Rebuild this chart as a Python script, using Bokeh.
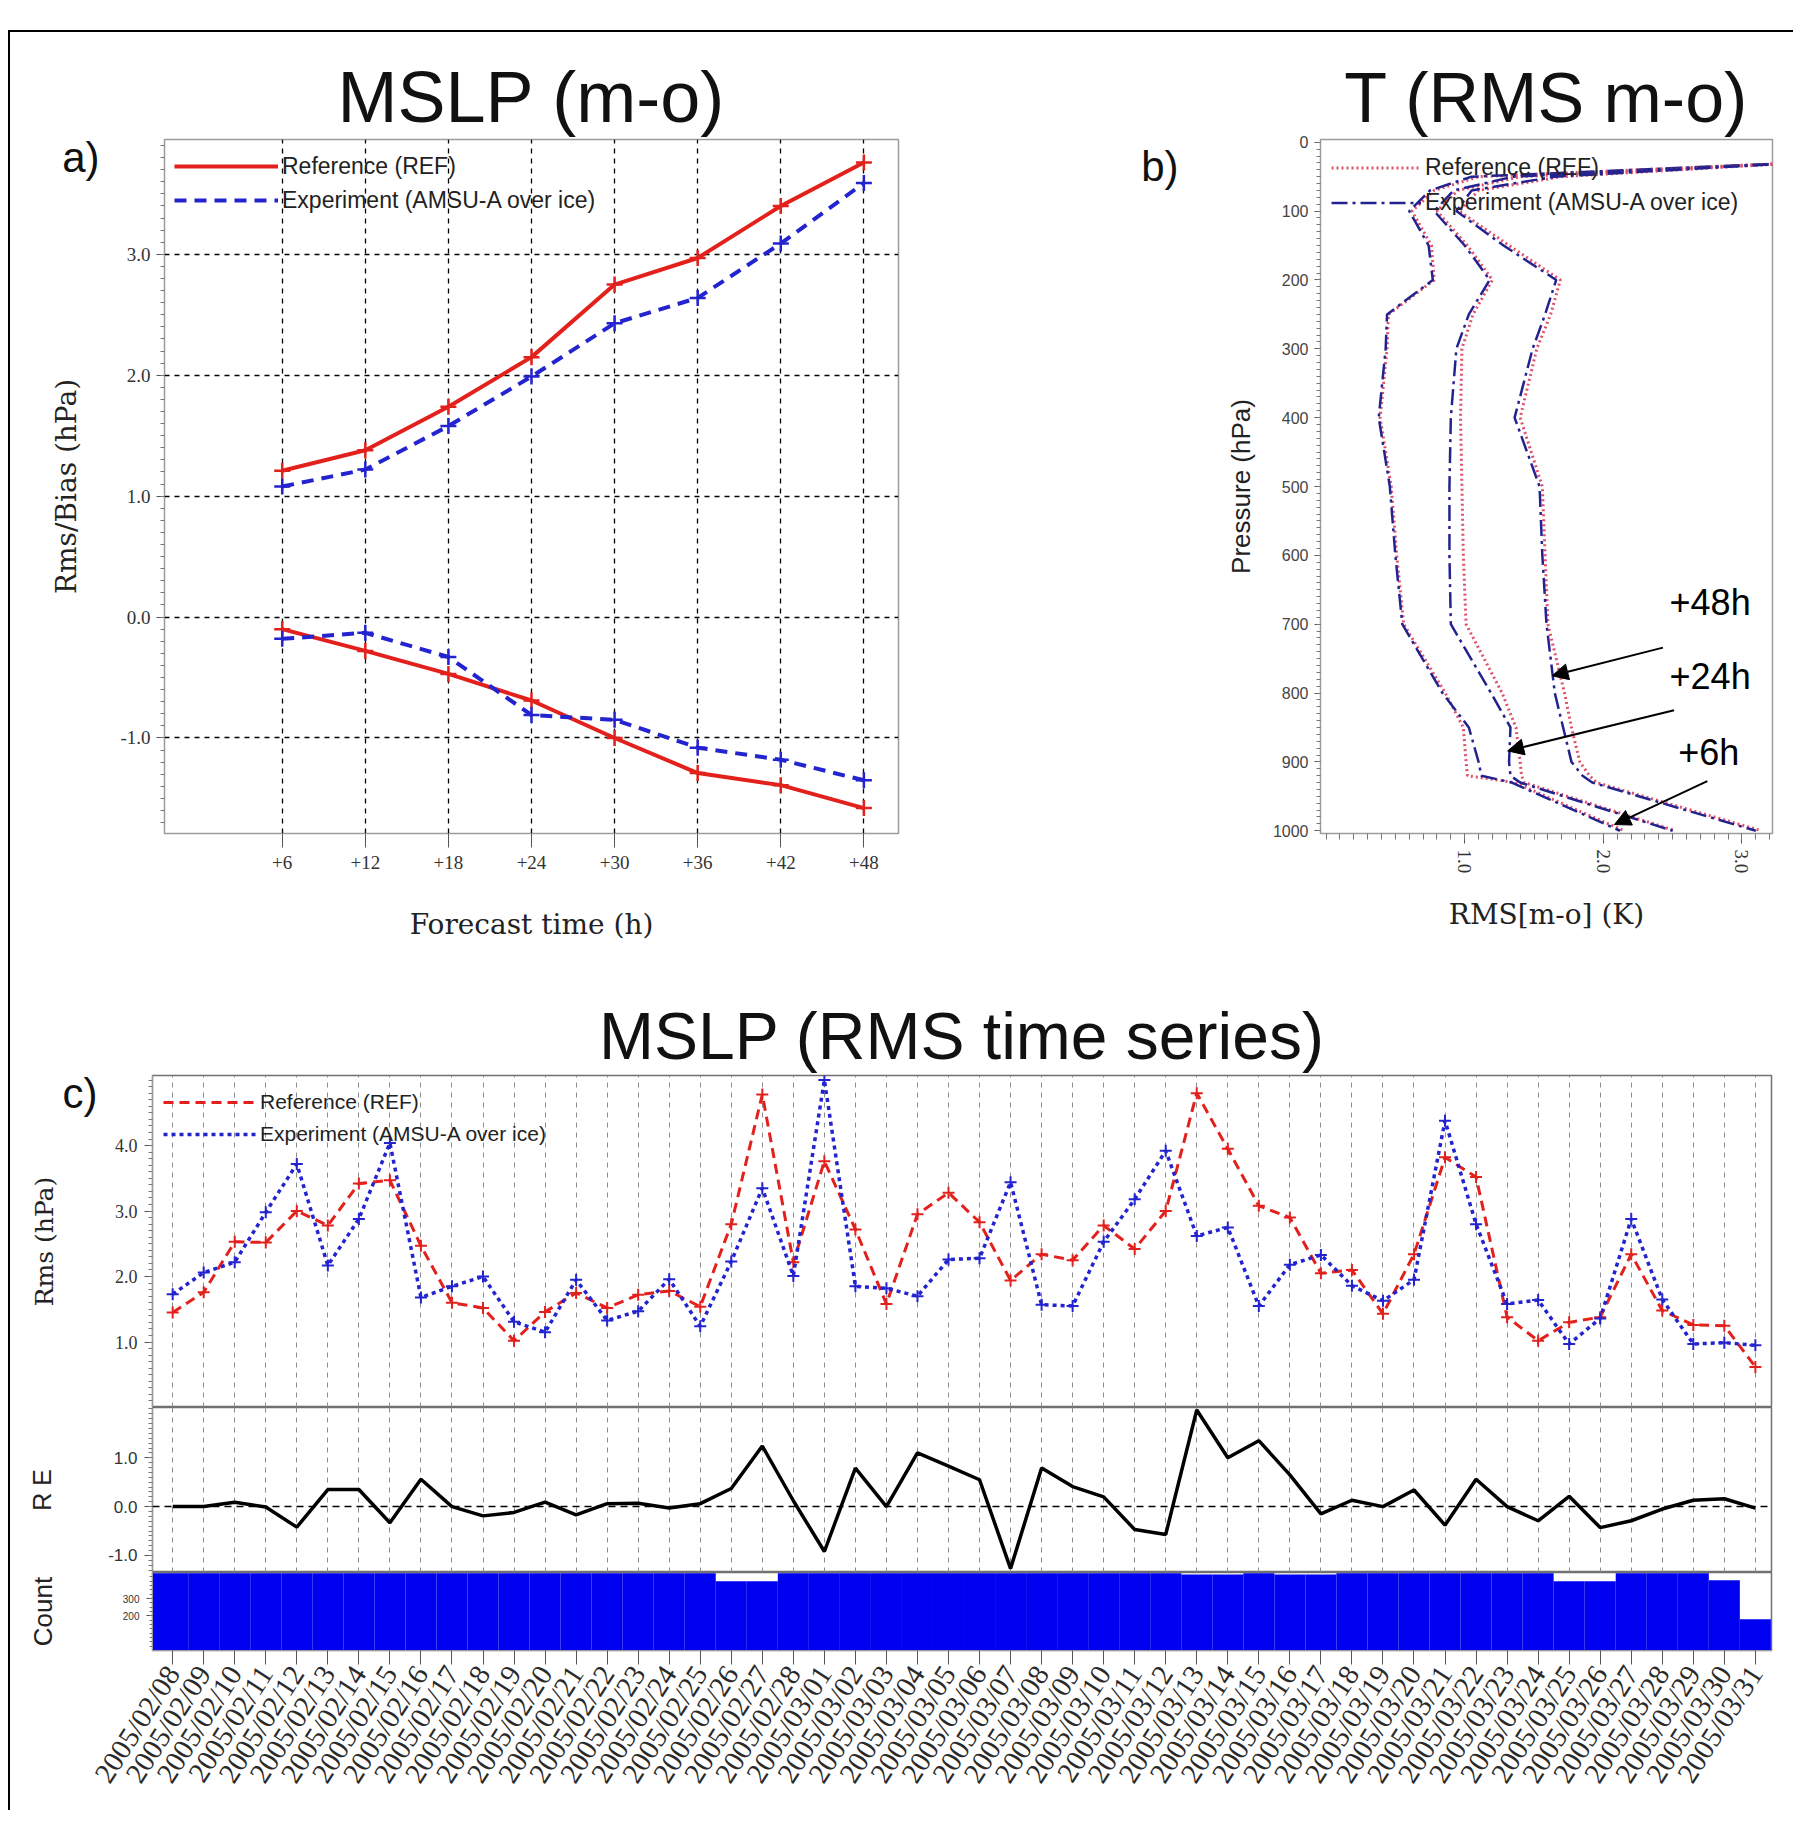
import numpy as np
import pandas as pd
from bokeh.plotting import figure
from bokeh.models import (Range1d, FixedTicker, Label, Legend, LegendItem, Span, Arrow, Title,
                          NormalHead, Spacer, PrintfTickFormatter, ColumnDataSource, LinearAxis)
from bokeh.layouts import column, row
from bokeh.embed import file_html
from bokeh.resources import INLINE

SANS = "Liberation Sans"
SERIF = "Liberation Serif"
LSERIF = "DejaVu Serif"
RED = "#e3211c"
BLUE = "#2323cf"
PINK = "#e0506a"
NAVY = "#23238f"

# ---------------- panel a data ----------------
lead_hours = [6, 12, 18, 24, 30, 36, 42, 48]
lead_labels = ["+6", "+12", "+18", "+24", "+30", "+36", "+42", "+48"]
rms_ref = [1.21, 1.38, 1.74, 2.15, 2.75, 2.97, 3.40, 3.76]
rms_exp = [1.08, 1.22, 1.58, 1.99, 2.43, 2.64, 3.09, 3.59]
bias_ref = [-0.10, -0.28, -0.47, -0.69, -1.00, -1.29, -1.39, -1.58]
bias_exp = [-0.18, -0.13, -0.33, -0.81, -0.85, -1.08, -1.18, -1.35]

# ---------------- panel b data ----------------
levels = [30, 50, 70, 100, 150, 200, 250, 300, 400, 500, 600, 700, 800, 850, 900, 920, 930, 1000]
t06_ref = [3.40, 1.10, 0.78, 0.62, 0.76, 0.78, 0.45, 0.44, 0.39, 0.47, 0.51, 0.56, 0.86, 0.99, 1.01, 1.02, 1.36, 2.15]
t06_exp = [3.40, 1.05, 0.75, 0.60, 0.74, 0.77, 0.44, 0.43, 0.38, 0.46, 0.50, 0.55, 0.84, 1.03, 1.10, 1.12, 1.34, 2.12]
t24_ref = [3.40, 1.40, 0.95, 0.80, 1.02, 1.20, 1.06, 0.98, 0.97, 0.98, 0.99, 1.01, 1.27, 1.37, 1.40, 1.41, 1.43, 2.52]
t24_exp = [3.40, 1.35, 0.92, 0.78, 1.00, 1.18, 1.03, 0.94, 0.90, 0.89, 0.89, 0.90, 1.19, 1.33, 1.32, 1.33, 1.40, 2.50]
t48_ref = [3.40, 1.70, 1.10, 0.96, 1.32, 1.69, 1.62, 1.52, 1.40, 1.56, 1.58, 1.60, 1.72, 1.77, 1.83, 1.90, 1.95, 3.14]
t48_exp = [3.40, 1.65, 1.05, 0.94, 1.28, 1.66, 1.58, 1.49, 1.36, 1.54, 1.56, 1.59, 1.65, 1.71, 1.77, 1.85, 1.92, 3.10]
annot_text = ["+48h", "+24h", "+6h"]
annot_text_k = [2.77, 2.77, 2.76]
annot_text_p = [669, 776, 887]
arrow_k0 = [2.43, 2.51, 2.75]
arrow_p0 = [734, 825, 928]
arrow_k1 = [1.63, 1.31, 2.08]
arrow_p1 = [775, 884, 991]

# ---------------- panel c data ----------------
dates = [d.strftime("%Y/%m/%d") for d in pd.date_range("2005-02-08", "2005-03-31")]
days = list(range(len(dates)))
ts_rms_ref = [1.45, 1.76, 2.53, 2.52, 3.00, 2.78, 3.42, 3.47, 2.47, 1.60,
              1.52, 1.02, 1.46, 1.75, 1.52, 1.72, 1.78, 1.54, 2.80, 4.78,
              2.22, 3.76, 2.72, 1.58, 2.95, 3.28, 2.83, 1.94, 2.34, 2.25,
              2.78, 2.42, 3.00, 4.80, 3.95, 3.08, 2.90, 2.05, 2.10, 1.43,
              2.34, 3.82, 3.52, 1.38, 1.02, 1.30, 1.38, 2.34, 1.48, 1.26,
              1.25, 0.62]
ts_rms_exp = [1.73, 2.06, 2.22, 2.98, 3.72, 2.17, 2.88, 4.04, 1.68, 1.85,
              2.00, 1.31, 1.15, 1.95, 1.33, 1.47, 1.96, 1.24, 2.23, 3.35,
              2.01, 5.00, 1.85, 1.82, 1.70, 2.26, 2.28, 3.44, 1.57, 1.55,
              2.53, 3.18, 3.92, 2.62, 2.75, 1.55, 2.18, 2.33, 1.86, 1.63,
              1.95, 4.38, 2.80, 1.58, 1.64, 0.97, 1.36, 2.88, 1.65, 0.97,
              0.99, 0.95]
ts_re = [0.00, 0.00, 0.09, -0.01, -0.42, 0.35, 0.35, -0.33, 0.56, 0.00,
         -0.19, -0.12, 0.09, -0.17, 0.06, 0.07, -0.03, 0.06, 0.37, 1.24,
         0.12, -0.92, 0.79, 0.00, 1.10, 0.83, 0.55, -1.27, 0.79, 0.41,
         0.20, -0.47, -0.57, 1.98, 1.00, 1.35, 0.65, -0.15, 0.13, 0.00,
         0.34, -0.38, 0.56, 0.00, -0.29, 0.21, -0.43, -0.29, -0.05, 0.13,
         0.16, -0.03]
ts_count = [445, 445, 445, 445, 445, 445, 445, 445, 445, 445,
            445, 445, 445, 445, 445, 445, 445, 445, 400, 400,
            445, 445, 445, 445, 445, 445, 445, 445, 445, 445,
            445, 445, 445, 438, 438, 445, 438, 438, 445, 445,
            445, 445, 445, 445, 445, 400, 400, 445, 445, 445,
            405, 180]


def style_axis(ax, font, size, color="#333333", tick_out=8, minor_out=4, standoff=6):
    ax.major_label_text_font = font
    ax.major_label_text_font_size = size
    ax.major_label_text_color = color
    ax.major_label_standoff = standoff
    ax.major_tick_in = 0
    ax.major_tick_out = tick_out
    ax.minor_tick_in = 0
    ax.minor_tick_out = minor_out
    ax.major_tick_line_color = "#555555"
    ax.minor_tick_line_color = "#777777"
    ax.axis_line_color = "#9c9c9c"
    ax.axis_label_text_font_style = "normal"
    ax.axis_label_text_color = "#222222"


def add_title(p, text, size, standoff=6):
    p.add_layout(Title(text=text, align="center", text_font=SANS, text_font_size=size,
                       text_font_style="normal", text_color="#111111", standoff=standoff), "above")


def letter_axis(p, tick, text, standoff, axis_label="", label_font=LSERIF, label_size="25px", label_standoff=5):
    ax = LinearAxis(ticker=FixedTicker(ticks=[tick], minor_ticks=[]),
                    major_label_overrides={tick: text},
                    axis_line_color=None, major_tick_line_color=None, minor_tick_line_color=None,
                    major_tick_in=0, major_tick_out=0, minor_tick_in=0, minor_tick_out=0,
                    major_label_standoff=standoff, major_label_text_font=SANS,
                    major_label_text_font_size="42px", major_label_text_color="#111111")
    if axis_label:
        ax.axis_label = axis_label
        ax.axis_label_text_font = label_font
        ax.axis_label_text_font_size = label_size
        ax.axis_label_text_font_style = "normal"
        ax.axis_label_text_color = "#222222"
        ax.axis_label_standoff = label_standoff
    p.add_layout(ax, "left")


def make_legend(items, pad, gh, gw, size):
    return Legend(items=items, location="top_left", margin=0, padding=pad, spacing=0,
                  glyph_height=gh, label_height=gh, glyph_width=gw, label_standoff=4,
                  background_fill_alpha=0, border_line_alpha=0,
                  label_text_font=SANS, label_text_font_size=size, label_text_color="#222222")


# ================= panel a =================
pa = figure(width=990, height=948, x_range=Range1d(-2.5, 50.5), y_range=Range1d(-1.79, 3.95),
            output_backend="svg", toolbar_location=None,
            min_border_left=154, min_border_right=102, min_border_top=98, min_border_bottom=147)
pa.outline_line_color = "#9c9c9c"
pa.outline_line_width = 1.5
pa.xaxis.ticker = FixedTicker(ticks=lead_hours)
pa.xaxis.major_label_overrides = dict(zip(lead_hours, lead_labels))
pa.yaxis.ticker = FixedTicker(ticks=[-1, 0, 1, 2, 3],
                              minor_ticks=[round(v, 2) for v in np.arange(-1.7, 3.95, 0.1)])
pa.yaxis.formatter = PrintfTickFormatter(format="%.1f")
style_axis(pa.xaxis[0], SERIF, "19px", tick_out=14, minor_out=0, standoff=8)
style_axis(pa.yaxis[0], SERIF, "19px", tick_out=8, minor_out=4, standoff=6)
pa.xaxis.axis_label = "Forecast time (h)"
pa.xaxis.axis_label_text_font = LSERIF
pa.xaxis.axis_label_text_font_size = "28px"
pa.xaxis.axis_label_standoff = 36
pa.grid.grid_line_color = "black"
pa.grid.grid_line_dash = "5 5"
pa.grid.grid_line_width = 1.3

ra1 = pa.line(lead_hours, rms_ref, line_color=RED, line_width=4)
pa.scatter(lead_hours, rms_ref, marker="cross", size=16, line_color=RED, line_width=2.5)
ra2 = pa.line(lead_hours, rms_exp, line_color=BLUE, line_width=4, line_dash="12 8")
pa.scatter(lead_hours, rms_exp, marker="cross", size=16, line_color=BLUE, line_width=2.5)
pa.line(lead_hours, bias_ref, line_color=RED, line_width=4)
pa.scatter(lead_hours, bias_ref, marker="cross", size=16, line_color=RED, line_width=2.5)
pa.line(lead_hours, bias_exp, line_color=BLUE, line_width=4, line_dash="12 8")
pa.scatter(lead_hours, bias_exp, marker="cross", size=16, line_color=BLUE, line_width=2.5)

pa.add_layout(make_legend([LegendItem(label="Reference (REF)", renderers=[ra1]),
                           LegendItem(label="Experiment (AMSU-A over ice)", renderers=[ra2])],
                          10, 34, 104, "23px"))
add_title(pa, "MSLP (m-o)", "72px")
letter_axis(pa, 3.8, "a)", 18, axis_label="Rms/Bias (hPa)", label_size="28px", label_standoff=-24)

# ================= panel b =================
pb = figure(width=793, height=948, x_range=Range1d(-0.04, 3.22), y_range=Range1d(1004, -4),
            output_backend="svg", toolbar_location=None,
            min_border_left=320, min_border_right=21, min_border_top=107, min_border_bottom=143)
pb.outline_line_color = "#9c9c9c"
pb.outline_line_width = 1.5
pb.grid.visible = False
pb.xaxis.ticker = FixedTicker(ticks=[1, 2, 3], minor_ticks=[round(v, 2) for v in np.arange(0.0, 3.21, 0.1)])
pb.xaxis.formatter = PrintfTickFormatter(format="%.1f")
pb.xaxis.major_label_orientation = "vertical"
pb.yaxis.ticker = FixedTicker(ticks=list(range(0, 1001, 100)), minor_ticks=list(range(0, 1001, 10)))
style_axis(pb.xaxis[0], SERIF, "19px", tick_out=10, minor_out=6, standoff=6)
style_axis(pb.yaxis[0], SANS, "16px", color="#444444", tick_out=6, minor_out=4, standoff=6)
pb.xaxis.axis_label = "RMS[m-o] (K)"
pb.xaxis.axis_label_text_font = LSERIF
pb.xaxis.axis_label_text_font_size = "28px"
pb.xaxis.axis_label_standoff = 22
pb.yaxis.axis_label = "Pressure (hPa)"
pb.yaxis.axis_label_text_font = SANS
pb.yaxis.axis_label_text_font_size = "26px"
pb.yaxis.axis_label_standoff = 14

rb_ref = None
rb_exp = None
for ref_vals, exp_vals in ((t06_ref, t06_exp), (t24_ref, t24_exp), (t48_ref, t48_exp)):
    r1 = pb.line(ref_vals, levels, line_color=PINK, line_width=3, line_dash="2 3")
    r2 = pb.line(exp_vals, levels, line_color=NAVY, line_width=2.5, line_dash="16 5 3 5")
    if rb_ref is None:
        rb_ref, rb_exp = r1, r2

arrow_src = ColumnDataSource(dict(x0=arrow_k0, y0=arrow_p0, x1=arrow_k1, y1=arrow_p1))
pb.add_layout(Arrow(source=arrow_src, x_start="x0", y_start="y0", x_end="x1", y_end="y1",
                    line_color="black", line_width=2,
                    end=NormalHead(size=16, fill_color="black", line_color="black")))
for txt, k, pr in zip(annot_text, annot_text_k, annot_text_p):
    pb.add_layout(Label(x=k, y=pr, text=txt, text_font=SANS, text_font_size="36px",
                        text_align="center", text_baseline="middle", text_color="black"))
pb.add_layout(make_legend([LegendItem(label="Reference (REF)", renderers=[rb_ref]),
                           LegendItem(label="Experiment (AMSU-A over ice)", renderers=[rb_exp])],
                          11, 35, 90, "23px"))
add_title(pb, "T (RMS m-o)", "70px")
letter_axis(pb, 35, "b)", 44)

# ================= panel c =================
X0, X1 = -0.65, 51.52
xr = Range1d(X0, X1)

pc1 = figure(width=1783, height=427, x_range=xr, y_range=Range1d(0, 5.07), x_axis_location=None,
             output_backend="svg", toolbar_location=None,
             min_border_left=142, min_border_right=22, min_border_top=95, min_border_bottom=0)
pc1.outline_line_color = "#707070"
pc1.outline_line_width = 1.5
pc1.ygrid.visible = False
pc1.xgrid.ticker = FixedTicker(ticks=days)
pc1.xgrid.grid_line_color = "#8c8c8c"
pc1.xgrid.grid_line_dash = "5 5"
pc1.yaxis.ticker = FixedTicker(ticks=[1, 2, 3, 4], minor_ticks=[round(v, 2) for v in np.arange(0.1, 5.05, 0.1)])
pc1.yaxis.formatter = PrintfTickFormatter(format="%.1f")
style_axis(pc1.yaxis[0], SERIF, "18px", tick_out=8, minor_out=4, standoff=7)

rc1 = pc1.line(days, ts_rms_ref, line_color=RED, line_width=3, line_dash="10 6")
pc1.scatter(days, ts_rms_ref, marker="cross", size=12, line_color=RED, line_width=2)
rc2 = pc1.line(days, ts_rms_exp, line_color=BLUE, line_width=3.5, line_dash="4 4")
pc1.scatter(days, ts_rms_exp, marker="cross", size=12, line_color=BLUE, line_width=2)
pc1.add_layout(make_legend([LegendItem(label="Reference (REF)", renderers=[rc1]),
                            LegendItem(label="Experiment (AMSU-A over ice)", renderers=[rc2])],
                           11, 32, 93, "21px"))
add_title(pc1, "MSLP (RMS time series)", "66px")
letter_axis(pc1, 4.8, "c)", 14, axis_label="Rms (hPa)", label_standoff=1)

pc2 = figure(width=1783, height=165, x_range=xr, y_range=Range1d(-1.35, 2.03), x_axis_location=None,
             output_backend="svg", toolbar_location=None,
             min_border_left=142, min_border_right=22, min_border_top=0, min_border_bottom=0)
pc2.outline_line_color = "#707070"
pc2.outline_line_width = 1.5
pc2.ygrid.visible = False
pc2.xgrid.ticker = FixedTicker(ticks=days)
pc2.xgrid.grid_line_color = "#8c8c8c"
pc2.xgrid.grid_line_dash = "5 5"
pc2.yaxis.ticker = FixedTicker(ticks=[-1, 0, 1], minor_ticks=[round(v, 2) for v in np.arange(-1.3, 2.01, 0.1)])
pc2.yaxis.formatter = PrintfTickFormatter(format="%.1f")
style_axis(pc2.yaxis[0], SANS, "17px", tick_out=8, minor_out=4, standoff=7)
pc2.yaxis.axis_label = "R E"
pc2.yaxis.axis_label_text_font = SANS
pc2.yaxis.axis_label_text_font_size = "25px"
pc2.yaxis.axis_label_standoff = 49
pc2.add_layout(Span(location=0, dimension="width", line_color="black", line_width=1.5, line_dash="7 5"))
pc2.line(days, ts_re, line_color="black", line_width=3.5)

pc3 = figure(width=1783, height=238, x_range=xr, y_range=Range1d(0, 450),
             output_backend="svg", toolbar_location=None,
             min_border_left=142, min_border_right=22, min_border_top=0, min_border_bottom=160)
pc3.outline_line_color = "#707070"
pc3.outline_line_width = 1.5
pc3.grid.visible = False
bar_left = [d - 0.5 for d in days]
bar_left[0] = X0
bar_right = [d + 0.5 for d in days]
pc3.quad(left=bar_left, right=bar_right, bottom=0, top=ts_count, fill_color="#0000f0", line_color=None)
pc3.xaxis.ticker = FixedTicker(ticks=days)
pc3.xaxis.major_label_overrides = dict(zip(days, dates))
pc3.xaxis.major_label_orientation = 1.0
style_axis(pc3.xaxis[0], SERIF, "29px", color="#2a2a2a", tick_out=14, minor_out=0, standoff=4)
pc3.yaxis.ticker = FixedTicker(ticks=[200, 300], minor_ticks=list(range(25, 450, 25)))
style_axis(pc3.yaxis[0], SANS, "10px", tick_out=6, minor_out=3, standoff=7)
pc3.yaxis.axis_label = "Count"
pc3.yaxis.axis_label_text_font = SANS
pc3.yaxis.axis_label_text_font_size = "26px"
pc3.yaxis.axis_label_standoff = 62

# ================= layout with outer frame lines =================
top_gap = Spacer(width=1785, height=30)
top_line = Spacer(width=1785, height=2, styles={"background-color": "black"})
left_line = Spacer(width=2, height=1778, styles={"background-color": "black"})
content = column(row(pa, pb), pc1, pc2, pc3)
inner = column(top_gap, top_line, row(left_line, content))
root = row(Spacer(width=8, height=1810), inner)

open("out.html", "w").write(file_html(root, INLINE))
